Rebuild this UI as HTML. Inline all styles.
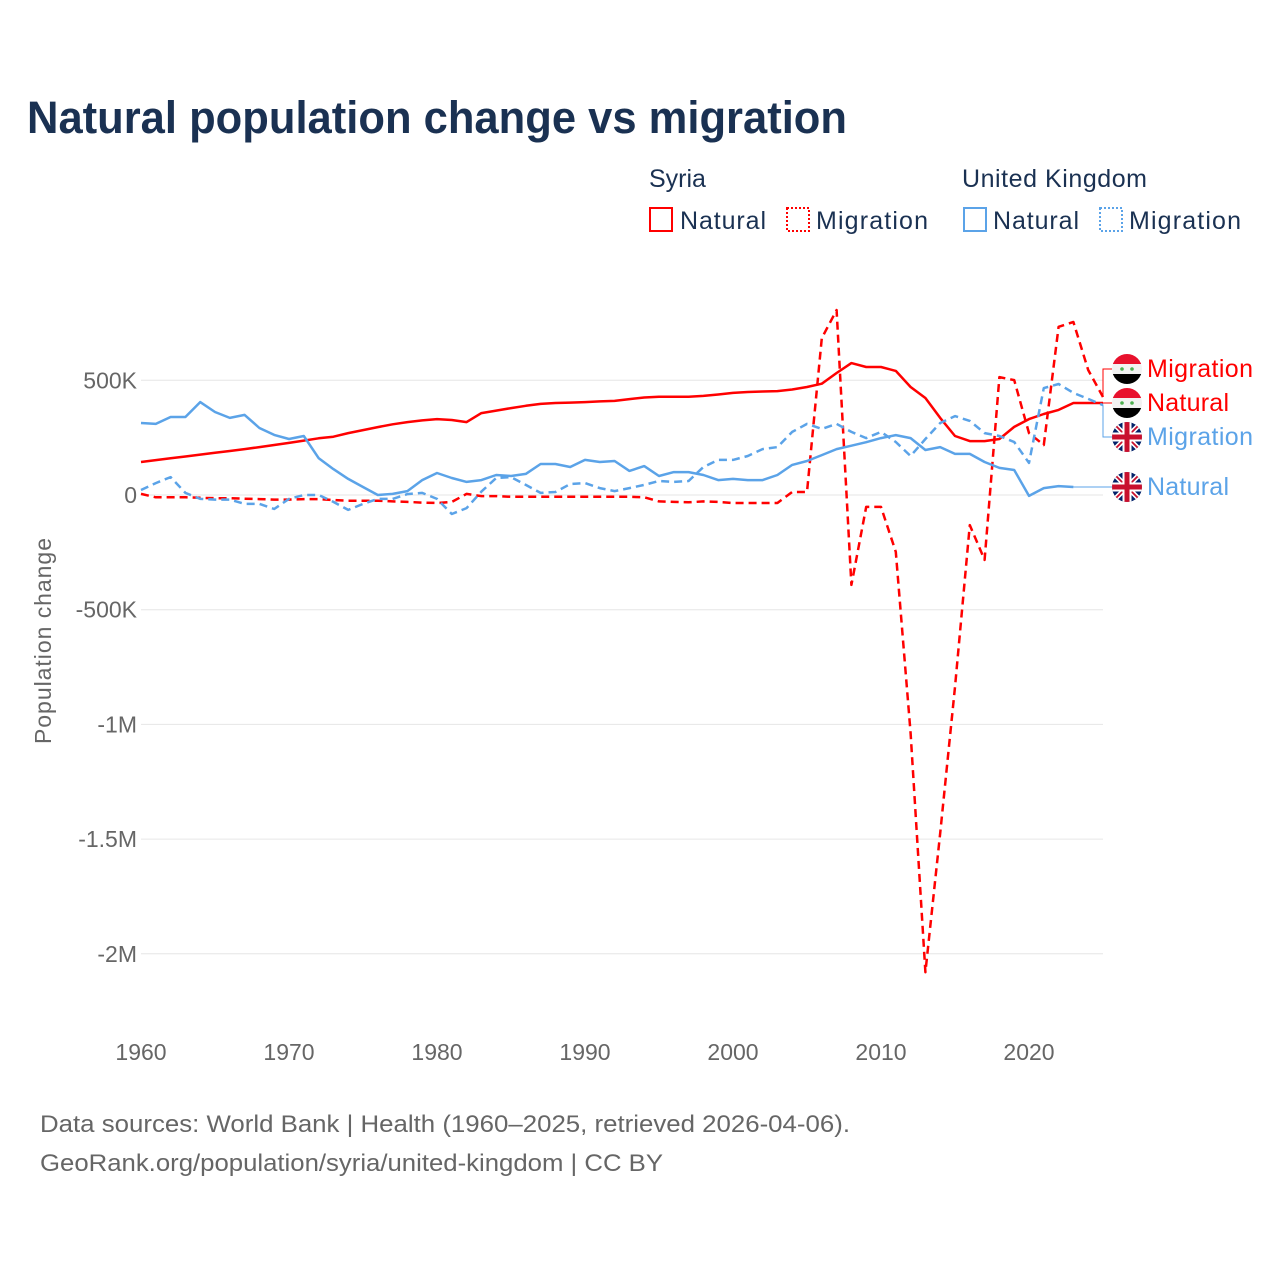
<!DOCTYPE html>
<html><head><meta charset="utf-8"><style>
body{margin:0;background:#fff;}
svg{display:block;font-family:"Liberation Sans",sans-serif;}
</style></head><body>
<svg id="chart" width="1280" height="1280" viewBox="0 0 1280 1280">
<text x="27" y="133" font-size="45" font-weight="bold" fill="#1a3152" textLength="820" lengthAdjust="spacingAndGlyphs">Natural population change vs migration</text>
<g>
<text x="649" y="187" font-size="25" fill="#1a3152">Syria</text>
<text x="962" y="187" font-size="25" fill="#1a3152" textLength="185">United Kingdom</text>
<g><rect x="650" y="208" width="22" height="23" fill="none" stroke="#ff0000" stroke-width="2"/><text x="680" y="229" font-size="25" fill="#1a3152" textLength="86">Natural</text></g>
<g><rect x="787" y="208" width="22" height="23" fill="none" stroke="#ff0000" stroke-width="2" stroke-dasharray="2,2"/><text x="816" y="229" font-size="25" fill="#1a3152" textLength="112">Migration</text></g>
<g><rect x="964" y="208" width="22" height="23" fill="none" stroke="#5ba3e8" stroke-width="2"/><text x="993" y="229" font-size="25" fill="#1a3152" textLength="86">Natural</text></g>
<g><rect x="1100" y="208" width="22" height="23" fill="none" stroke="#5ba3e8" stroke-width="2" stroke-dasharray="2,2"/><text x="1129" y="229" font-size="25" fill="#1a3152" textLength="112">Migration</text></g>
</g>
<g id="grid"></g>
<g id="yticks"></g>
<g id="xticks"></g>
<text transform="translate(51,641) rotate(-90)" text-anchor="middle" font-size="23" fill="#666" textLength="206">Population change</text>
<g id="series"></g>
<g id="labels"></g>
<text x="40" y="1132" font-size="24" fill="#666" textLength="810" lengthAdjust="spacingAndGlyphs">Data sources: World Bank | Health (1960–2025, retrieved 2026-04-06).</text>
<text x="40" y="1171" font-size="24" fill="#666" textLength="623" lengthAdjust="spacingAndGlyphs">GeoRank.org/population/syria/united-kingdom | CC BY</text>
</svg>
<script>
const years = [];
for (let y = 1960; y <= 2025; y++) years.push(y);
const yTickValues = [500, 0, -500, -1000, -1500, -2000];
const yTickLabels = ["500K", "0", "-500K", "-1M", "-1.5M", "-2M"];
const xTickValues = [1960, 1970, 1980, 1990, 2000, 2010, 2020];
// values in thousands
const syriaNatural = [144,152,160,168,176,184,192,200,209,218,227,237,247,254,270,283,296,308,318,325,331,327,318,357,368,379,389,397,401,403,405,408,410,418,425,428,428,428,432,438,445,449,451,453,460,471,485,532,575,558,558,541,471,423,336,257,235,235,244,297,331,353,371,401,401,401];
const syriaMigration = [5,-10,-10,-10,-12,-14,-14,-16,-18,-20,-20,-18,-18,-22,-25,-25,-25,-28,-30,-33,-35,-30,5,-5,-5,-8,-8,-8,-8,-8,-8,-8,-8,-8,-10,-28,-30,-32,-28,-30,-35,-35,-35,-35,13,13,684,806,-392,-52,-52,-248,-1038,-2080,-1474,-837,-131,-283,514,501,270,218,733,754,545,427];
const ukNatural = [314,310,340,340,405,362,336,349,292,262,244,257,161,113,70,35,0,5,17,65,96,74,57,65,87,83,92,135,135,122,153,144,148,105,126,83,100,100,87,65,70,65,65,87,131,148,174,200,215,230,248,261,248,196,209,179,179,144,118,109,-4,30,39,35,null,null];
const ukMigration = [22,52,78,9,-17,-20,-20,-39,-39,-61,-17,0,0,-30,-65,-39,-17,-17,4,9,-17,-83,-57,15,74,78,44,9,13,48,52,30,17,30,44,61,57,61,122,153,153,170,200,209,275,310,288,310,275,248,275,231,170,244,314,344,323,270,257,231,140,466,484,445,419,392];

const NS = "http://www.w3.org/2000/svg";
const X0 = 141, XPER = 14.8, Y0 = 495, YPER = 114.7 / 500;
const xs = yr => X0 + (yr - 1960) * XPER;
const ys = v => Y0 - v * YPER;
function mk(tag, attrs, parent) { const e = document.createElementNS(NS, tag); for (const k in attrs) e.setAttribute(k, attrs[k]); parent.appendChild(e); return e; }

const grid = document.getElementById('grid'), yt = document.getElementById('yticks'), xt = document.getElementById('xticks');
yTickValues.forEach((v, i) => {
  const l = mk('line', {x1: 141, x2: 1103, y1: ys(v), y2: ys(v), stroke: '#e6e6e6', 'stroke-width': 1}, grid);
  
  
  const t = mk('text', {x: 137, y: ys(v) + 8, 'text-anchor': 'end', 'font-size': 23, fill: '#666'}, yt);
  t.textContent = yTickLabels[i];
  
  
});
xTickValues.forEach(v => {
  const t = mk('text', {x: xs(v), y: 1060, 'text-anchor': 'middle', 'font-size': 23, fill: '#666'}, xt);
  t.textContent = v;
  
  
});

const ser = document.getElementById('series');
function draw(vals, color, dash, name) {
  let d = '';
  vals.forEach((v, i) => { if (v === null) return; d += (d ? 'L' : 'M') + xs(years[i]).toFixed(1) + ',' + ys(v).toFixed(1); });
  const p = mk('path', {d: d, fill: 'none', stroke: color, 'stroke-width': 2.5, 'stroke-linejoin': 'round'}, ser);
  if (dash) p.setAttribute('stroke-dasharray', '8,5');
  
  
}
draw(syriaNatural, '#ff0000', false, 'line-syria-natural');
draw(syriaMigration, '#ff0000', true, 'line-syria-migration');
draw(ukNatural, '#5ba3e8', false, 'line-uk-natural');
draw(ukMigration, '#5ba3e8', true, 'line-uk-migration');

const lab = document.getElementById('labels');
function lastVal(arr) { for (let i = arr.length - 1; i >= 0; i--) if (arr[i] !== null) return [years[i], arr[i]]; }
function syriaFlag(cx, cy) {
  const g = mk('g', {}, lab);
  
  
  const id = 'c' + Math.round(cy);
  const cp = mk('clipPath', {id: id}, g); mk('circle', {cx: cx, cy: cy, r: 15}, cp);
  const gg = mk('g', {'clip-path': 'url(#' + id + ')'}, g);
  mk('rect', {x: cx - 15, y: cy - 15, width: 30, height: 10, fill: '#e8112d'}, gg);
  mk('rect', {x: cx - 15, y: cy - 5, width: 30, height: 10, fill: '#f2f2f2'}, gg);
  mk('rect', {x: cx - 15, y: cy + 5, width: 30, height: 10, fill: '#000'}, gg);
  mk('circle', {cx: cx - 5, cy: cy, r: 1.8, fill: '#4caf50'}, gg);
  mk('circle', {cx: cx + 5, cy: cy, r: 1.8, fill: '#4caf50'}, gg);
}
function ukFlag(cx, cy) {
  const g = mk('g', {}, lab);
  
  
  const id = 'u' + Math.round(cy);
  const cp = mk('clipPath', {id: id}, g); mk('circle', {cx: cx, cy: cy, r: 15}, cp);
  const gg = mk('g', {'clip-path': 'url(#' + id + ')'}, g);
  mk('rect', {x: cx - 15, y: cy - 15, width: 30, height: 30, fill: '#012169'}, gg);
  mk('path', {d: `M${cx-15},${cy-15}L${cx+15},${cy+15}M${cx+15},${cy-15}L${cx-15},${cy+15}`, stroke: '#fff', 'stroke-width': 5}, gg);
  mk('path', {d: `M${cx-15},${cy-15}L${cx+15},${cy+15}M${cx+15},${cy-15}L${cx-15},${cy+15}`, stroke: '#c8102e', 'stroke-width': 1.8}, gg);
  mk('rect', {x: cx - 15, y: cy - 4.5, width: 30, height: 9, fill: '#fff'}, gg);
  mk('rect', {x: cx - 4.5, y: cy - 15, width: 9, height: 30, fill: '#fff'}, gg);
  mk('rect', {x: cx - 15, y: cy - 2.5, width: 30, height: 5, fill: '#c8102e'}, gg);
  mk('rect', {x: cx - 2.5, y: cy - 15, width: 5, height: 30, fill: '#c8102e'}, gg);
}
const labelDefs = [
  {arr: syriaMigration, ly: 369, color: '#ff0000', text: 'Migration', w: 106, flag: syriaFlag, name: 'label-syria-migration'},
  {arr: syriaNatural, ly: 403, color: '#ff0000', text: 'Natural', w: 82, flag: syriaFlag, name: 'label-syria-natural'},
  {arr: ukMigration, ly: 437, color: '#5ba3e8', text: 'Migration', w: 106, flag: ukFlag, name: 'label-uk-migration'},
  {arr: ukNatural, ly: 487, color: '#5ba3e8', text: 'Natural', w: 82, flag: ukFlag, name: 'label-uk-natural'}
];
labelDefs.forEach(L => {
  const [yr, v] = lastVal(L.arr);
  const px = xs(yr), py = ys(v);
  const cl = mk('path', {d: `M${px},${py}L1103,${py}L1103,${L.ly}L1112,${L.ly}`, fill: 'none', stroke: L.color, 'stroke-width': 1}, lab);
  
  
  L.flag(1127, L.ly);
  const t = mk('text', {x: 1147, y: L.ly + 8, 'font-size': 25, fill: L.color, textLength: L.w}, lab);
  t.textContent = L.text;
  
  
});
</script>
</body></html>
